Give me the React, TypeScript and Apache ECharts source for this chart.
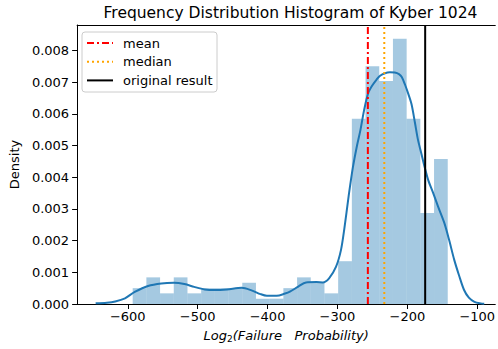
import React, { useEffect, useRef } from "react";
import * as echarts from "echarts";

// ---- data ----
const titleText = "Frequency Distribution Histogram of Kyber 1024";
const histStart = -593;
const binWidth = 19.6;
const histDensity = [
  0.0005, 0.00084, 0.000336, 0.00084, 0.000336, 0.0005, 0.0005, 0.0005,
  0.00067, 0.000168, 0.000168, 0.0005, 0.00084, 0.00067, 0.000336, 0.00135,
  0.00584, 0.0075, 0.00703, 0.00837, 0.00584, 0.00287, 0.00457,
];
const kdeX = [
  -646, -630, -618, -604, -590, -571, -552, -534, -519, -505, -490, -475, -458,
  -437, -423, -410, -401, -387, -375, -368, -356, -345, -330, -321, -312, -302,
  -295, -290, -284, -278, -272, -267, -262, -256, -250, -244, -239, -232, -225,
  -218, -212, -208, -203, -199, -194, -189, -185, -180, -175, -170, -163, -156,
  -147, -140, -133, -126, -119, -112, -104, -95, -90,
];
const kdeY = [
  0.00002, 0.00004, 0.00008, 0.00018, 0.00038, 0.00057, 0.00065, 0.00067,
  0.00063, 0.00054, 0.00046, 0.00044, 0.00046, 0.00051, 0.00043, 0.00031,
  0.00026, 0.00026, 0.00033, 0.00039, 0.00055, 0.00068, 0.00069, 0.00068,
  0.00081, 0.00118, 0.0017, 0.0024, 0.0034, 0.0043, 0.005, 0.0055, 0.0061,
  0.00665, 0.0069, 0.00708, 0.0072, 0.00728, 0.00731, 0.0073, 0.00725,
  0.00716, 0.0069, 0.00665, 0.0063, 0.0057, 0.0052, 0.00475, 0.0043, 0.0039,
  0.0035, 0.00307, 0.00255, 0.002, 0.0014, 0.0009, 0.00045, 0.0002, 0.00007,
  0.00002, 0.00001,
];
const meanValue = -256.5;
const medianValue = -233;
const originalValue = -174.5;
const legendLabels = ["mean", "median", "original result"];
const xTicks = [-600, -500, -400, -300, -200, -100];
const yTicks = [0, 0.001, 0.002, 0.003, 0.004, 0.005, 0.006, 0.007, 0.008];
const xMin = -672.5;
const xMax = -74.2; // visible right edge (the plot continues beyond the crop)
const yMax = 0.0088;

const FONT = "DejaVu Sans";

export default function App() {
  const ref = useRef<HTMLDivElement>(null);
  useEffect(() => {
    if (!ref.current) return;
    const chart = echarts.init(ref.current, undefined, { renderer: "svg" });
    const histData = histDensity.map((d, i) => [
      histStart + i * binWidth,
      histStart + (i + 1) * binWidth,
      d,
    ]);
    const kdeData = kdeX.map((x, i) => [x, kdeY[i]]);
    const vline = (v: number) => [
      [v, 0],
      [v, yMax],
    ];
    const legendRows = [
      { color: "#ff0000", dash: [7, 3, 2, 3] as any },
      { color: "#ffa500", dash: [2, 3] as any },
      { color: "#000000", dash: null as any },
    ];
    const lx = 82, ly = 32;
    const legendChildren: any[] = [
      {
        type: "rect",
        shape: { x: lx, y: ly, width: 135, height: 60, r: 3 },
        style: { fill: "rgba(255,255,255,0.8)", stroke: "#cccccc", lineWidth: 1 },
      },
    ];
    legendRows.forEach((r, i) => {
      const yy = ly + 11 + i * 18.7;
      legendChildren.push({
        type: "line",
        shape: { x1: lx + 5, y1: yy, x2: lx + 31, y2: yy },
        style: {
          stroke: r.color,
          lineWidth: 2,
          lineDash: r.dash || undefined,
        },
      });
      legendChildren.push({
        type: "text",
        x: lx + 41,
        y: yy,
        style: {
          text: legendLabels[i],
          font: `13px "${FONT}"`,
          fill: "#000",
          verticalAlign: "middle",
          align: "left",
        },
      });
    });

    chart.setOption({
      animation: false,
      textStyle: { fontFamily: FONT },
      grid: {
        left: 75,
        right: 0,
        top: 25,
        bottom: 45,
        show: false,
        containLabel: false,
      },
      graphic: [
        {
          type: "text",
          x: 290.5,
          y: 12.5,
          style: {
            text: titleText,
            font: `15.5px "${FONT}"`,
            fill: "#000",
            align: "center",
            verticalAlign: "middle",
          },
        },
        { type: "group", children: legendChildren, z: 100 },
      ],
      xAxis: [
        {
          type: "value",
          min: xMin,
          max: xMax,
          splitLine: { show: false },
          axisLine: { show: true, onZero: false, lineStyle: { color: "#000", width: 1 } },
          axisTick: {
            show: true,
            customValues: xTicks,
            length: 5,
            inside: false,
            lineStyle: { color: "#000", width: 1 },
          },
          axisLabel: {
            customValues: xTicks,
            margin: 6,
            fontSize: 13,
            fontFamily: FONT,
            color: "#000",
            formatter: (v: number) => (v < 0 ? "\u2212" + Math.abs(v) : String(v)),
          },
          name: "{i|Log}{s|2}{i|(Failure\u00a0\u00a0\u00a0Probability)}",
          nameLocation: "middle",
          nameGap: 23,
          nameTextStyle: {
            rich: {
              i: { fontSize: 13, fontStyle: "italic", fontFamily: FONT, color: "#000" },
              s: { fontSize: 9, fontFamily: FONT, color: "#000", padding: [7, 0, 0, 0] },
            },
          },
        },
        {
          type: "value",
          position: "top",
          min: xMin,
          max: xMax,
          splitLine: { show: false },
          axisLine: { show: true, onZero: false, lineStyle: { color: "#000", width: 1 } },
          axisTick: { show: false },
          axisLabel: { show: false },
        },
      ],
      yAxis: {
        type: "value",
        min: 0,
        max: yMax,
        splitLine: { show: false },
        axisLine: { show: true, onZero: false, lineStyle: { color: "#000", width: 1 } },
        axisTick: {
          show: true,
          customValues: yTicks,
          length: 5,
          lineStyle: { color: "#000", width: 1 },
        },
        axisLabel: {
          customValues: yTicks,
          margin: 8,
          fontSize: 13,
          fontFamily: FONT,
          color: "#000",
          formatter: (v: number) => v.toFixed(3),
        },
        name: "Density",
        nameLocation: "middle",
        nameGap: 48,
        nameTextStyle: { fontSize: 13, fontFamily: FONT, color: "#000" },
      },
      series: [
        {
          type: "custom",
          name: "hist",
          data: histData,
          encode: { x: [0, 1], y: 2 },
          z: 1,
          renderItem: (params: any, api: any) => {
            const p0 = api.coord([api.value(0), api.value(2)]);
            const p1 = api.coord([api.value(1), 0]);
            return {
              type: "rect",
              shape: { x: p0[0], y: p0[1], width: p1[0] - p0[0], height: p1[1] - p0[1] },
              style: { fill: "rgba(31,119,180,0.4)" },
            };
          },
        },
        {
          type: "line",
          name: "kde",
          data: kdeData,
          smooth: 0.3,
          showSymbol: false,
          symbol: "none",
          z: 2,
          lineStyle: { color: "#1f77b4", width: 2 },
        },
        {
          type: "line",
          name: "mean",
          data: vline(meanValue),
          symbol: "none",
          z: 3,
          lineStyle: { color: "#ff0000", width: 2, type: [7, 3, 2, 3] },
        },
        {
          type: "line",
          name: "median",
          data: vline(medianValue),
          symbol: "none",
          z: 3,
          lineStyle: { color: "#ffa500", width: 2, type: [2, 3] },
        },
        {
          type: "line",
          name: "original result",
          data: vline(originalValue),
          symbol: "none",
          z: 3,
          lineStyle: { color: "#000000", width: 2 },
        },
      ],
    });
    return () => chart.dispose();
  }, []);
  return <div ref={ref} style={{ width: 498, height: 349, position: "absolute", left: 0, top: 0 }} />;
}
